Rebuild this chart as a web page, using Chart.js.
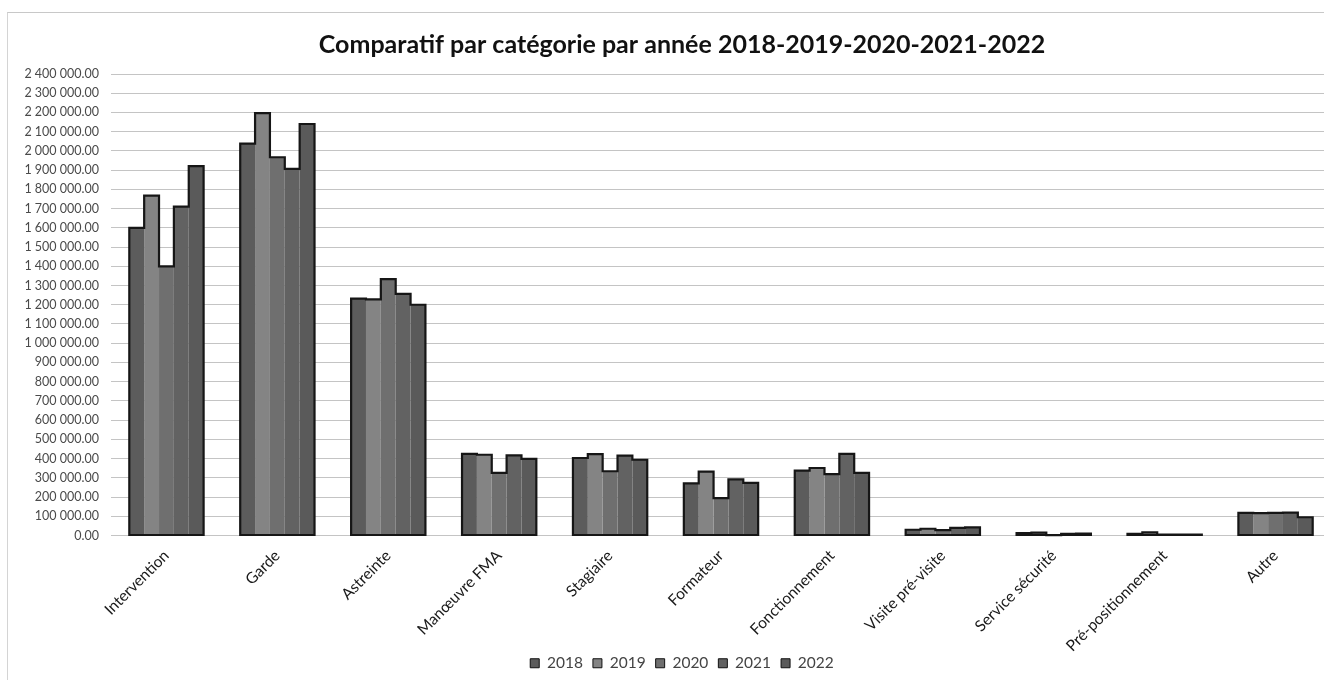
<!DOCTYPE html>
<html>
<head>
<meta charset="utf-8">
<script src="https://cdn.jsdelivr.net/npm/chart.js@4.4.0/dist/chart.umd.min.js"></script>
<style>
  html, body { margin: 0; padding: 0; background: #fff; overflow: hidden; width: 1324px; height: 680px; }
  #wrap { position: absolute; left: 7px; top: 12px; width: 1348px; height: 668px;
          border-left: 1px solid #d4d4d4; border-top: 1px solid #c8c8c8; }
  canvas { display: block; }
</style>
</head>
<body>
<div id="wrap"><canvas id="c" width="1348" height="668"></canvas></div>
<script>
const categories = ["Intervention", "Garde", "Astreinte", "Manœuvre FMA", "Stagiaire", "Formateur",
  "Fonctionnement", "Visite pré-visite", "Service sécurité", "Pré-positionnement", "Autre"];
const years = ["2018", "2019", "2020", "2021", "2022"];
const v2018 = [1600000, 2038000, 1232000, 424000, 403000, 271000, 337000, 30000, 12000, 8000, 118000];
const v2019 = [1768000, 2197000, 1228000, 420000, 423000, 332000, 351000, 35000, 15000, 16000, 116000];
const v2020 = [1400000, 1967000, 1333000, 326000, 334000, 194000, 319000, 28000, 2000, 5000, 118000];
const v2021 = [1710000, 1907000, 1257000, 417000, 415000, 292000, 425000, 40000, 9000, 5000, 119000];
const v2022 = [1921000, 2140000, 1200000, 399000, 394000, 274000, 326000, 42000, 10000, 5000, 95000];
const seriesColors = ["#5c5c5c", "#848484", "#6f6f6f", "#626262", "#5a5a5a"];
const yMax = 2400000;
const yStep = 100000;

function fmt(v) {
  const s = Math.round(v).toString().replace(/\B(?=(\d{3})+(?!\d))/g, " ");
  return s + ".00";
}

const outlinePlugin = {
  id: "groupOutline",
  afterDatasetsDraw(chart) {
    const ctx = chart.ctx;
    const metas = chart.data.datasets.map((d, i) => chart.getDatasetMeta(i));
    ctx.save();
    ctx.strokeStyle = "#161616";
    ctx.lineWidth = 2.2;
    ctx.lineJoin = "miter";
    for (let j = 0; j < categories.length; j++) {
      const bars = metas.map(m => m.data[j]);
      const base = bars[0].base;
      ctx.beginPath();
      const first = bars[0];
      ctx.moveTo(first.x - first.width / 2, base);
      bars.forEach((b) => {
        const l = b.x - b.width / 2, r = b.x + b.width / 2;
        ctx.lineTo(l, b.y);
        ctx.lineTo(r, b.y);
      });
      const last = bars[bars.length - 1];
      ctx.lineTo(last.x + last.width / 2, base);
      ctx.closePath();
      ctx.stroke();
    }
    ctx.restore();
  }
};

const allValues = [v2018, v2019, v2020, v2021, v2022];
new Chart(document.getElementById("c"), {
  type: "bar",
  data: {
    labels: categories,
    datasets: years.map((y, i) => ({
      label: y,
      data: allValues[i],
      backgroundColor: seriesColors[i],
      borderWidth: 0,
      categoryPercentage: 0.67,
      barPercentage: 1.0
    }))
  },
  options: {
    responsive: false,
    animation: false,
    layout: { padding: { left: 0, right: 0, top: 4, bottom: 0 } },
    plugins: {
      title: {
        display: true,
        text: "Comparatif par catégorie par année 2018-2019-2020-2021-2022",
        color: "#111",
        font: { family: "Lato", size: 25, weight: "bold" },
        padding: { top: 13, bottom: 14 }
      },
      legend: {
        position: "bottom",
        labels: {
          boxWidth: 9, boxHeight: 9, padding: 10,
          color: "#444",
          font: { family: "Lato", size: 15.5 },
          generateLabels(chart) {
            return chart.data.datasets.map((d, i) => ({
              text: d.label, fillStyle: d.backgroundColor, strokeStyle: "#111",
              lineWidth: 1, hidden: false, datasetIndex: i, fontColor: "#444"
            }));
          }
        }
      },
      tooltip: { enabled: false }
    },
    scales: {
      x: {
        afterFit(scale) {
          scale.height = 110;
          scale._computeLabelArea = () => undefined;
        },
        grid: { display: false },
        border: { display: false },
        ticks: {
          maxRotation: 45, minRotation: 45,
          color: "#1a1a1a",
          font: { family: "Lato", size: 15.5 },
          padding: 3
        }
      },
      y: {
        min: 0, max: yMax,
        afterFit(scale) { scale.width = 103; },
        grid: { color: "#c4c4c4", lineWidth: 1, drawTicks: false },
        border: { display: false },
        ticks: {
          stepSize: yStep,
          color: "#4a4a4a",
          font: { family: "Lato", size: 12.5 },
          padding: 12,
          callback: (v) => fmt(v)
        }
      },
      ySpacer: {
        position: "right",
        min: 0, max: yMax,
        afterFit(scale) { scale.width = 25; },
        grid: { display: false, drawOnChartArea: false },
        border: { display: false },
        ticks: { display: false }
      }
    }
  },
  plugins: [outlinePlugin]
});
</script>
</body>
</html>
